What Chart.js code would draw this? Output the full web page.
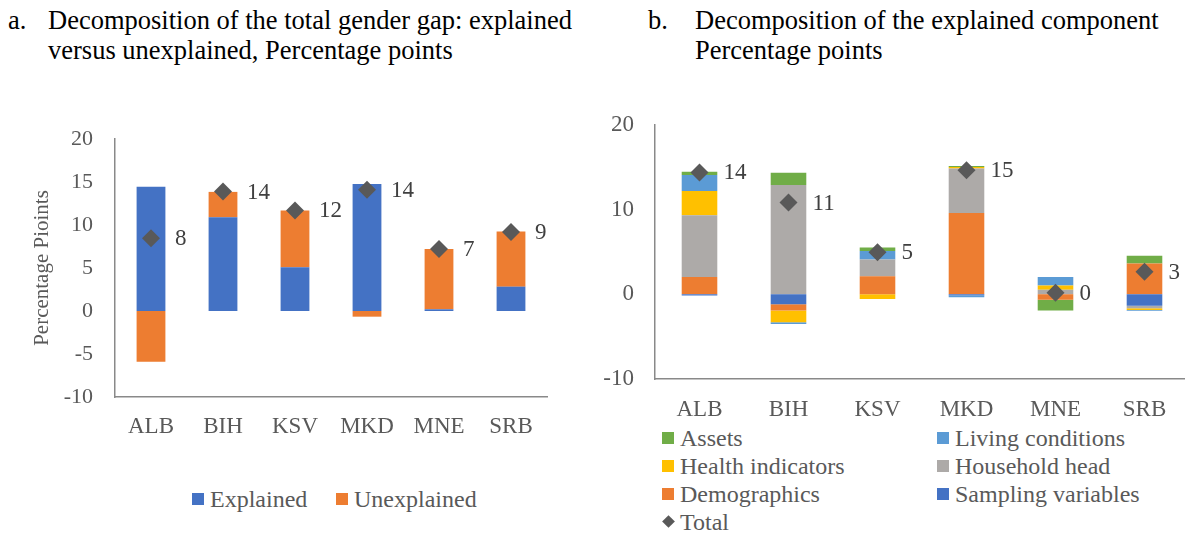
<!DOCTYPE html>
<html>
<head>
<meta charset="utf-8">
<script src="https://cdn.jsdelivr.net/npm/chart.js@4.4.0/dist/chart.umd.min.js"></script>
<style>
  body { margin: 0; width: 1185px; height: 534px; overflow: hidden; background: #fff; position: relative;
         font-family: "Liberation Serif", "Times New Roman", serif; }
  .title { position: absolute; top: 5px; font-size: 26.5px; line-height: 30px; color: #000; white-space: nowrap; }
  .title .num { position: absolute; top: 0; }
  canvas { position: absolute; }
  .legend { position: absolute; font-size: 24px; color: #595959; white-space: nowrap; }
  .item { position: absolute; height: 28px; line-height: 28px; }
  .box { position: absolute; width: 12px; height: 12px; top: 8px; left: 0; }
  .item span.txt { position: absolute; left: 18px; top: 0; }
</style>
</head>
<body>
<div class="title" style="left:8px;"><span class="num" style="left:0">a.</span><div style="margin-left:40px">Decomposition of the total gender gap: explained<br>versus unexplained, Percentage points</div></div>
<div class="title" style="left:648px;"><span class="num" style="left:0">b.</span><div style="margin-left:47px">Decomposition of the explained component<br>Percentage points</div></div>

<canvas id="leftChart" width="560" height="347" style="left:0;top:100px;"></canvas>
<canvas id="rightChart" width="600" height="334" style="left:600px;top:90px;"></canvas>
<div class="legend" id="leftLegend"></div>
<div class="legend" id="rightLegend"></div>

<script>
const countries = ['ALB', 'BIH', 'KSV', 'MKD', 'MNE', 'SRB'];

// panel a: total gap split
const explained = [14.45, 10.9, 5.08, 14.77, 0.2, 2.83];
const unexplained = [-5.9, 2.95, 6.6, -0.66, 7.0, 6.4];
const totalGap = [8.45, 13.9, 11.7, 14.1, 7.2, 9.2];
const leftTicks = [-10, -5, 0, 5, 10, 15, 20];

// panel b: explained component, bottom of stack first
const sampling = [-0.15, -1.18, 0, -0.1, 0, -1.35];
const demographics = [2.05, -0.72, 2.15, 9.62, -0.65, 3.65];
const householdHead = [7.3, 12.9, 1.95, 5.25, 0.55, -0.3];
const health = [2.85, -1.4, -0.55, 0.16, 0.5, -0.2];
const living = [1.9, -0.2, 1.03, -0.25, 1.0, -0.1];
const assets = [0.37, 1.46, 0.4, 0.12, -1.25, 0.9];
const totalExplained = [14.4, 10.85, 4.97, 14.65, 0.2, 2.66];
const rightTicks = [-10, 0, 10, 20];

const FONT = '"Liberation Serif", "Times New Roman", serif';
Chart.defaults.font.family = FONT;
Chart.defaults.color = '#595959';

const totalLabels = {
  id: 'totalLabels',
  afterDatasetsDraw(chart) {
    const ctx = chart.ctx;
    chart.data.datasets.forEach((ds, i) => {
      if (ds.type !== 'line') return;
      const meta = chart.getDatasetMeta(i);
      ctx.save();
      ctx.font = '23px ' + FONT;
      ctx.fillStyle = '#404040';
      ctx.textBaseline = 'middle';
      meta.data.forEach((pt, j) => {
        ctx.fillText(String(Math.round(ds.data[j])), pt.x + 24, pt.y + 1);
      });
      ctx.restore();
    });
  }
};

function barSet(label, data, color) {
  return { type: 'bar', label: label, data: data, backgroundColor: color, stack: 'parts', order: 1,
           barPercentage: 0.4, categoryPercentage: 1 };
}
function totalSet(data) {
  return { type: 'line', label: 'Total', data: data, stack: 'total', order: 0, showLine: false,
           pointStyle: 'rectRot', pointRadius: 9, pointHoverRadius: 9,
           backgroundColor: '#595959', borderColor: '#595959', borderWidth: 0 };
}

function axes(ticks, yWidth, xHeight, yFont, yPad, xPad, yTitle) {
  return {
    x: {
      stacked: true,
      grid: { display: false, drawTicks: false },
      border: { display: true, color: '#898989', width: 1.5 },
      ticks: { font: { size: 23 }, padding: xPad, color: '#595959' },
      afterFit: s => { s.height = xHeight; }
    },
    y: {
      stacked: true,
      min: ticks[0], max: ticks[ticks.length - 1],
      afterBuildTicks: s => { s.ticks = ticks.map(v => ({ value: v })); },
      grid: { display: false, drawTicks: false },
      border: { display: true, color: '#898989', width: 1.5 },
      ticks: { font: { size: yFont }, padding: yPad, color: '#595959' },
      title: yTitle,
      afterFit: s => { s.width = yWidth; }
    }
  };
}

const leftChart = new Chart(document.getElementById('leftChart'), {
  data: {
    labels: countries,
    datasets: [
      barSet('Explained', explained, '#4472C4'),
      barSet('Unexplained', unexplained, '#ED7D31'),
      totalSet(totalGap)
    ]
  },
  options: {
    responsive: false,
    animation: false,
    layout: { padding: { top: 39, right: 13, left: 0, bottom: 0 } },
    plugins: { legend: { display: false }, tooltip: { enabled: false } },
    scales: axes(leftTicks, 115, 50, 22, 22, 16,
      { display: true, text: 'Percentage Pioints', font: { size: 21 }, color: '#595959', padding: { top: 30, bottom: 0 } })
  },
  plugins: [totalLabels]
});

const rightChart = new Chart(document.getElementById('rightChart'), {
  data: {
    labels: countries,
    datasets: [
      barSet('Sampling variables', sampling, '#4472C4'),
      barSet('Demographics', demographics, '#ED7D31'),
      barSet('Household head', householdHead, '#ADAAA8'),
      barSet('Health indicators', health, '#FFC000'),
      barSet('Living conditions', living, '#5B9BD5'),
      barSet('Assets', assets, '#70AD47'),
      totalSet(totalExplained)
    ]
  },
  options: {
    responsive: false,
    animation: false,
    layout: { padding: { top: 35, right: 11, left: 0, bottom: 0 } },
    plugins: { legend: { display: false }, tooltip: { enabled: false } },
    scales: axes(rightTicks, 55, 45, 23, 21, 17, { display: false })
  },
  plugins: [totalLabels]
});

function marker(ds) {
  if (ds.type === 'line') {
    return '<span class="box" style="width:9px;height:9px;top:9px;left:2px;background:' + ds.backgroundColor + ';transform:rotate(45deg)"></span>';
  }
  return '<span class="box" style="background:' + ds.backgroundColor + '"></span>';
}

// panel a legend, one row
const leftLeg = document.getElementById('leftLegend');
leftLeg.style.left = '0px'; leftLeg.style.top = '485px';
const leftX = [192, 336];
leftChart.data.datasets.filter(d => d.type === 'bar').forEach((ds, i) => {
  leftLeg.innerHTML += '<div class="item" style="left:' + leftX[i] + 'px;top:0">' + marker(ds) +
    '<span class="txt">' + ds.label + '</span></div>';
});

// panel b legend, two columns, listed top of stack first
const rightLeg = document.getElementById('rightLegend');
rightLeg.style.left = '662px'; rightLeg.style.top = '424px';
const bars = rightChart.data.datasets.filter(d => d.type === 'bar').reverse();
const items = bars.concat(rightChart.data.datasets.filter(d => d.type === 'line'));
items.forEach((ds, i) => {
  const col = i % 2, row = Math.floor(i / 2);
  rightLeg.innerHTML += '<div class="item" style="left:' + (col * 275) + 'px;top:' + (row * 28) + 'px">' +
    marker(ds) + '<span class="txt">' + ds.label + '</span></div>';
});
</script>
</body>
</html>
